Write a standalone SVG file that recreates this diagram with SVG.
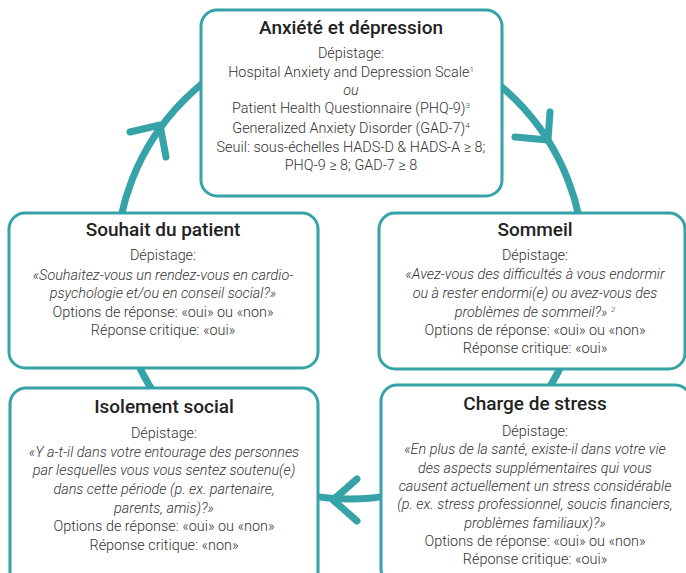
<svg xmlns="http://www.w3.org/2000/svg" width="686" height="573" viewBox="0 0 686 573">
<style>
.box{fill:#fff;stroke:#35a3a8;stroke-width:3}
.ring{fill:none;stroke:#35a3a8;stroke-width:7}
.arr{fill:none;stroke:#35a3a8;stroke-width:7;stroke-linecap:round;stroke-linejoin:round}
text{font-family:Roboto,"Liberation Sans",sans-serif;text-anchor:middle}
.t{font-size:19px;font-weight:500;fill:#222}
.b{font-size:14.4px;font-weight:300;fill:#333}
.i{font-style:italic}
.sup{font-size:8px}
</style>
<rect width="686" height="573" fill="#fff"/>
<g id="connectors">
<circle class="ring" cx="350" cy="265" r="234"/>
<polyline class="arr" points="130,132 160,125 166,157"/>
<polyline class="arr" points="550,112 548,140 515,137"/>
<polyline class="arr" points="357,479 333,500 357,521"/>
</g>
<g id="anxiete">
<rect class="box" x="201" y="10" width="301" height="186" rx="16"/>
<text class="t" x="351" y="34">Anxiété et dépression</text>
<text class="b" x="351" y="58">Dépistage:</text>
<text class="b" x="351" y="77">Hospital Anxiety and Depression Scale<tspan class="sup" dy="-5">1</tspan></text>
<text class="b i" x="351" y="95">ou</text>
<text class="b" x="351" y="113">Patient Health Questionnaire (PHQ-9)<tspan class="sup" dy="-5">3</tspan></text>
<text class="b" x="351" y="133">Generalized Anxiety Disorder (GAD-7)<tspan class="sup" dy="-5">4</tspan></text>
<text class="b" x="351" y="152">Seuil: sous-échelles HADS-D &amp; HADS-A ≥ 8;</text>
<text class="b" x="351" y="170">PHQ-9 ≥ 8; GAD-7 ≥ 8</text>
</g>
<g id="souhait">
<rect class="box" x="9" y="213" width="309" height="155" rx="16"/>
<text class="t" x="163" y="236">Souhait du patient</text>
<text class="b" x="163" y="260">Dépistage:</text>
<text class="b i" x="163" y="280">«Souhaitez-vous un rendez-vous en cardio-</text>
<text class="b i" x="163" y="298">psychologie et/ou en conseil social?»</text>
<text class="b" x="163" y="317">Options de réponse: «oui» ou «non»</text>
<text class="b" x="163" y="335">Réponse critique: «oui»</text>
</g>
<g id="sommeil">
<rect class="box" x="379" y="213" width="306" height="156" rx="16"/>
<text class="t" x="535" y="236">Sommeil</text>
<text class="b" x="535" y="260">Dépistage:</text>
<text class="b i" x="535" y="279">«Avez-vous des difficultés à vous endormir</text>
<text class="b i" x="535" y="298">ou à rester endormi(e) ou avez-vous des</text>
<text class="b i" x="535" y="317">problèmes  de sommeil?» <tspan class="sup" dy="-5">2</tspan></text>
<text class="b" x="535" y="335">Options de réponse: «oui» ou «non»</text>
<text class="b" x="535" y="353">Réponse critique: «oui»</text>
</g>
<g id="isolement">
<rect class="box" x="10" y="388" width="308" height="200" rx="16"/>
<text class="t" x="164" y="413">Isolement social</text>
<text class="b" x="164" y="438">Dépistage:</text>
<text class="b i" x="164" y="457">«Y a-t-il dans votre entourage des personnes</text>
<text class="b i" x="164" y="475">par lesquelles vous vous sentez soutenu(e)</text>
<text class="b i" x="164" y="494">dans cette période (p. ex. partenaire,</text>
<text class="b i" x="164" y="513">parents, amis)?»</text>
<text class="b" x="164" y="531">Options de réponse: «oui» ou «non»</text>
<text class="b" x="164" y="550">Réponse critique: «non»</text>
</g>
<g id="stress">
<rect class="box" x="381" y="385" width="310" height="200" rx="16"/>
<text class="t" x="535" y="410">Charge de stress</text>
<text class="b" x="535" y="436">Dépistage:</text>
<text class="b i" x="535" y="454">«En plus de la santé, existe-il dans votre vie</text>
<text class="b i" x="535" y="473">des aspects supplémentaires qui vous</text>
<text class="b i" x="535" y="491">causent actuellement un stress considérable</text>
<text class="b i" x="535" y="509">(p. ex. stress professionnel, soucis financiers,</text>
<text class="b i" x="535" y="528">problèmes familiaux)?»</text>
<text class="b" x="535" y="546">Options de réponse: «oui» ou «non»</text>
<text class="b" x="535" y="564">Réponse critique: «oui»</text>
</g>
</svg>
